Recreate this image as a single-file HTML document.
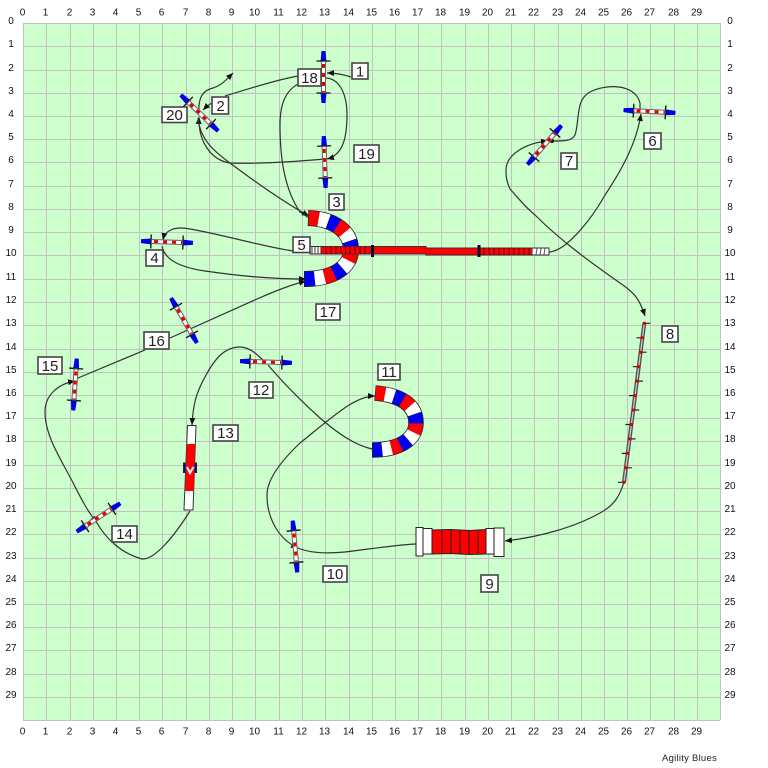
<!DOCTYPE html>
<html><head><meta charset="utf-8"><style>
html,body{margin:0;padding:0;background:#fff}
svg{display:block;filter:blur(.3px)}
text{font-family:"Liberation Sans",sans-serif}
.a text{font-size:10px;fill:#111;text-anchor:middle}
.b rect{fill:#fff;stroke:#444;stroke-width:1.6}
.b text{font-size:15px;fill:#222;text-anchor:middle}
.c path{fill:none;stroke:#333;stroke-width:1.2}
</style></head><body>
<svg width="768" height="768" viewBox="0 0 768 768" xmlns="http://www.w3.org/2000/svg">
<defs>
<marker id="m" markerUnits="userSpaceOnUse" markerWidth="8" markerHeight="6" refX="7" refY="3" orient="auto"><path d="M0 0L7 3L0 6Z" fill="#111"/></marker>
<g id="j">
<path d="M-26 -2L-15 -3V3L-26 2ZM26 -2L15 -3V3L26 2Z" fill="#0000e6"/>
<path d="M-16 -7V7M16 -7V7" stroke="#111" stroke-width="1.3"/>
<path d="M-16 0H16" stroke="#666" stroke-width="5"/>
<path d="M-15 0H15" stroke="#fff" stroke-width="3"/>
<path d="M-13 0H15" stroke="#e60000" stroke-width="3" stroke-dasharray="4 5"/>
</g>
</defs>
<rect x="23" y="23" width="697" height="697" fill="#ccffcc"/>
<path shape-rendering="crispEdges" fill="none" stroke="#c0c4c0" stroke-width="1" d="M23.5 23V720M46.5 23V720M70.5 23V720M93.5 23V720M116.5 23V720M139.5 23V720M162.5 23V720M186.5 23V720M209.5 23V720M232.5 23V720M255.5 23V720M279.5 23V720M302.5 23V720M325.5 23V720M349.5 23V720M372.5 23V720M395.5 23V720M418.5 23V720M441.5 23V720M465.5 23V720M488.5 23V720M511.5 23V720M534.5 23V720M558.5 23V720M581.5 23V720M604.5 23V720M627.5 23V720M650.5 23V720M674.5 23V720M697.5 23V720M720.5 23V720M23 23.5H720M23 46.5H720M23 70.5H720M23 93.5H720M23 116.5H720M23 139.5H720M23 162.5H720M23 186.5H720M23 209.5H720M23 232.5H720M23 255.5H720M23 279.5H720M23 302.5H720M23 325.5H720M23 349.5H720M23 372.5H720M23 395.5H720M23 418.5H720M23 441.5H720M23 465.5H720M23 488.5H720M23 511.5H720M23 534.5H720M23 558.5H720M23 581.5H720M23 604.5H720M23 627.5H720M23 650.5H720M23 674.5H720M23 697.5H720M23 720.5H720"/>

<g class="a">
<text x="22.5" y="15.5">0</text><text x="45.5" y="15.5">1</text><text x="69.5" y="15.5">2</text><text x="92.5" y="15.5">3</text><text x="115.5" y="15.5">4</text><text x="138.5" y="15.5">5</text><text x="161.5" y="15.5">6</text><text x="185.5" y="15.5">7</text><text x="208.5" y="15.5">8</text><text x="231.5" y="15.5">9</text><text x="254.5" y="15.5">10</text><text x="278.5" y="15.5">11</text><text x="301.5" y="15.5">12</text><text x="324.5" y="15.5">13</text><text x="348.5" y="15.5">14</text><text x="371.5" y="15.5">15</text><text x="394.5" y="15.5">16</text><text x="417.5" y="15.5">17</text><text x="440.5" y="15.5">18</text><text x="464.5" y="15.5">19</text><text x="487.5" y="15.5">20</text><text x="510.5" y="15.5">21</text><text x="533.5" y="15.5">22</text><text x="557.5" y="15.5">23</text><text x="580.5" y="15.5">24</text><text x="603.5" y="15.5">25</text><text x="626.5" y="15.5">26</text><text x="649.5" y="15.5">27</text><text x="673.5" y="15.5">28</text><text x="696.5" y="15.5">29</text>
<text x="22.5" y="734.5">0</text><text x="45.5" y="734.5">1</text><text x="69.5" y="734.5">2</text><text x="92.5" y="734.5">3</text><text x="115.5" y="734.5">4</text><text x="138.5" y="734.5">5</text><text x="161.5" y="734.5">6</text><text x="185.5" y="734.5">7</text><text x="208.5" y="734.5">8</text><text x="231.5" y="734.5">9</text><text x="254.5" y="734.5">10</text><text x="278.5" y="734.5">11</text><text x="301.5" y="734.5">12</text><text x="324.5" y="734.5">13</text><text x="348.5" y="734.5">14</text><text x="371.5" y="734.5">15</text><text x="394.5" y="734.5">16</text><text x="417.5" y="734.5">17</text><text x="440.5" y="734.5">18</text><text x="464.5" y="734.5">19</text><text x="487.5" y="734.5">20</text><text x="510.5" y="734.5">21</text><text x="533.5" y="734.5">22</text><text x="557.5" y="734.5">23</text><text x="580.5" y="734.5">24</text><text x="603.5" y="734.5">25</text><text x="626.5" y="734.5">26</text><text x="649.5" y="734.5">27</text><text x="673.5" y="734.5">28</text><text x="696.5" y="734.5">29</text>
<text x="11" y="24">0</text><text x="11" y="47">1</text><text x="11" y="71">2</text><text x="11" y="94">3</text><text x="11" y="117">4</text><text x="11" y="140">5</text><text x="11" y="163">6</text><text x="11" y="187">7</text><text x="11" y="210">8</text><text x="11" y="233">9</text><text x="11" y="256">10</text><text x="11" y="280">11</text><text x="11" y="303">12</text><text x="11" y="326">13</text><text x="11" y="350">14</text><text x="11" y="373">15</text><text x="11" y="396">16</text><text x="11" y="419">17</text><text x="11" y="442">18</text><text x="11" y="466">19</text><text x="11" y="489">20</text><text x="11" y="512">21</text><text x="11" y="535">22</text><text x="11" y="559">23</text><text x="11" y="582">24</text><text x="11" y="605">25</text><text x="11" y="628">26</text><text x="11" y="651">27</text><text x="11" y="675">28</text><text x="11" y="698">29</text>
<text x="730" y="24">0</text><text x="730" y="47">1</text><text x="730" y="71">2</text><text x="730" y="94">3</text><text x="730" y="117">4</text><text x="730" y="140">5</text><text x="730" y="163">6</text><text x="730" y="187">7</text><text x="730" y="210">8</text><text x="730" y="233">9</text><text x="730" y="256">10</text><text x="730" y="280">11</text><text x="730" y="303">12</text><text x="730" y="326">13</text><text x="730" y="350">14</text><text x="730" y="373">15</text><text x="730" y="396">16</text><text x="730" y="419">17</text><text x="730" y="442">18</text><text x="730" y="466">19</text><text x="730" y="489">20</text><text x="730" y="512">21</text><text x="730" y="535">22</text><text x="730" y="559">23</text><text x="730" y="582">24</text><text x="730" y="605">25</text><text x="730" y="628">26</text><text x="730" y="651">27</text><text x="730" y="675">28</text><text x="730" y="698">29</text>
</g>
<text x="662" y="761" font-size="9.5" fill="#222" style="letter-spacing:.25px">Agility Blues</text>

<!-- course -->
<g class="c">
<path d="M351 77C345 75 338 73 327 73" marker-end="url(#m)"/>
<path d="M325 78C340 78 347 95 347 115C347 140 342 155 327 159" marker-end="url(#m)"/>
<path d="M325 159C290 162 255 164 230 163C210 160 198 140 199 117" marker-end="url(#m)"/>
<path d="M298 76C275 80 245 90 225 96"/>
<path d="M212 103C208 105 206 107 203 110" marker-end="url(#m)"/>
<path d="M199 112C198 95 205 90 213 88C222 85 226 80 233 73" marker-end="url(#m)"/>
<path d="M198 118C200 140 215 152 230 163C250 178 280 200 309 216" marker-end="url(#m)"/>
<path d="M300 83C285 90 280 105 280 125C280 160 285 190 300 212L309 218"/>
<path d="M293 251C260 246 225 235 190 229C175 226 165 230 163 240" marker-end="url(#m)"/>
<path d="M162 246C165 262 185 268 205 271C240 276 270 279 306 279" marker-end="url(#m)"/>
<path d="M170 338L257 299C275 291 290 285 306 281" marker-end="url(#m)"/>
<path d="M145 350L78 378"/>
<path d="M45 412C45 395 58 384 75 381" marker-end="url(#m)"/>
<path d="M45 412C45 435 60 458 70 477C78 492 85 508 97 523" marker-end="url(#m)"/>
<path d="M97 523C105 537 120 553 142 559C155 560 175 535 190 511"/>
<path d="M267 364C258 355 250 347 240 347C225 347 215 358 205 377C196 393 193 405 192 425" marker-end="url(#m)"/>
<path d="M268 365C285 385 300 400 320 418C340 435 355 445 372 449"/>
<path d="M267 495C267 480 280 462 300 443C335 415 355 396 375 396" marker-end="url(#m)"/>
<path d="M267 495C267 520 280 540 298 548" marker-end="url(#m)"/>
<path d="M298 548C310 553 325 554 345 552C370 549 395 545 416 544"/>
<path d="M624 482C620 495 615 505 600 513C575 527 540 537 505 541" marker-end="url(#m)"/>
<path d="M510 189C520 200 525 207 535 215C560 240 590 262 620 283C635 293 640 300 645 316" marker-end="url(#m)"/>
<path d="M510 189C506 180 506 175 506 170C506 155 525 143 548 141" marker-end="url(#m)"/>
<path d="M552 141C565 141 572 141 575 135C580 120 575 100 590 92C605 84 635 83 640 103L640 110"/>
<path d="M549 252C553 252 558 250 565 245C580 233 595 213 605 195C625 165 637 140 641 114" marker-end="url(#m)"/>
</g>
<circle cx="552" cy="141" r="2" fill="#111"/>

<!-- jumps -->
<use href="#j" transform="translate(323.5 77) rotate(90)"/>
<use href="#j" transform="translate(324.7 162) rotate(88)"/>
<use href="#j" transform="translate(199.5 113) rotate(44)"/>
<use href="#j" transform="translate(167 242) rotate(2)"/>
<use href="#j" transform="translate(184 320.5) rotate(60)"/>
<use href="#j" transform="translate(544.5 145) rotate(-49)"/>
<use href="#j" transform="translate(649.5 111.5) rotate(3)"/>
<use href="#j" transform="translate(266 362) rotate(2)"/>
<use href="#j" transform="translate(75 384.5) rotate(94)"/>
<use href="#j" transform="translate(98.5 517.5) rotate(-33)"/>
<use href="#j" transform="translate(295 546.5) rotate(85)"/>

<!-- tunnel 3/17 -->
<g fill="none">
<path d="M308 218C335 219 351 232 351 250C351 266 335 279 304 279" stroke="#222" stroke-width="16"/>
<path pathLength="12" d="M308.6 218C335 219 351 232 351 250C351 266 335 279 304.6 279" stroke="#f00" stroke-width="14.5" stroke-dasharray="1 2"/>
<path pathLength="12" d="M308.6 218C335 219 351 232 351 250C351 266 335 279 304.6 279" stroke="#fff" stroke-width="14.5" stroke-dasharray="1 2" stroke-dashoffset="-1"/>
<path pathLength="12" d="M308.6 218C335 219 351 232 351 250C351 266 335 279 304.6 279" stroke="#00e" stroke-width="14.5" stroke-dasharray="1 2" stroke-dashoffset="-2"/>
</g>
<!-- tunnel 11 -->
<g fill="none">
<path d="M375 393C398 395 416 403 416 423C416 440 398 450 372 450" stroke="#222" stroke-width="15.5"/>
<path pathLength="12" d="M375.6 393C398 395 416 403 416 423C416 440 398 450 372.6 450" stroke="#f00" stroke-width="14" stroke-dasharray="1 2"/>
<path pathLength="12" d="M375.6 393C398 395 416 403 416 423C416 440 398 450 372.6 450" stroke="#fff" stroke-width="14" stroke-dasharray="1 2" stroke-dashoffset="-1"/>
<path pathLength="12" d="M375.6 393C398 395 416 403 416 423C416 440 398 450 372.6 450" stroke="#00e" stroke-width="14" stroke-dasharray="1 2" stroke-dashoffset="-2"/>
</g>

<!-- tunnel 5 -->
<rect x="310" y="246.5" width="12" height="7.5" fill="#fff" stroke="#333"/>
<path d="M312 247V254M315 247V254M318 247V254" stroke="#333"/>
<path d="M321 246.5H426V248H532V255H426V254H321Z" fill="#f00" stroke="#333"/>
<rect x="532" y="248" width="17" height="7" fill="#fff" stroke="#333"/>
<path d="M537 248.5L536 254.5M541 248.500L540 254.500M545 248.500L544 254.500" stroke="#555"/>
<path d="M326 247V254M331 247V254M336 247V254M341 247V254M345.500 247V254M350 247V254M355 247V254M360 247V254M365 247V254M484 248V255M489 248V255M494 248V255M499 248V255M504 248V255M509 248V255M514 248V255M519 248V255M524 248V255M529 248V255" stroke="#600" stroke-width="1"/>
<rect x="371" y="245" width="3" height="12" fill="#103"/>
<rect x="477.500" y="245" width="3" height="12" fill="#103"/>

<!-- tire -->
<rect x="183.500" y="463" width="13" height="9.500" fill="#0000d0" stroke="#222"/>
<path d="M187.500 425.500H196L193 510H184Z" fill="#fff" stroke="#333"/>
<path d="M186.800 444H195.300L193.700 491H185.200Z" fill="#f00"/>
<path d="M187 467L190 473L193.500 467" fill="none" stroke="#fff" stroke-width="2"/>

<!-- chute -->
<path d="M416 527.500H423V556H416Z" fill="#fff" stroke="#222"/>
<path d="M423 528.500H432V554H423Z" fill="#fff" stroke="#222"/>
<path d="M432 530L450 529.500L470 530.500L486 529.500V554L470 554.500L450 553.500L432 554Z" fill="#f00" stroke="#222"/>
<path d="M442 530V554M451 530V554M460 530V554M469 530V554M478 530V554" stroke="#222"/>
<path d="M486 528.500H494V554H486Z" fill="#fff" stroke="#222"/>
<path d="M494 528H504V556.500H494Z" fill="#fff" stroke="#222"/>

<!-- weave -->
<path d="M644.300 323.300L624 482.300" stroke="#555" stroke-width="4"/>
<path d="M644.300 323.300L624 482.300" stroke="#ccc" stroke-width="1.200"/>
<path fill="none" stroke="#222" stroke-width="1.200" d="M644.300 323.300h6M642.500 337.800h-6M640.600 352.200h6M638.800 366.700h-6M636.900 381.100h6M635.100 395.600h-6M633.200 410h6M631.400 424.500h-6M629.500 438.900h6M627.700 453.400h-6M625.900 467.800h6M624 482.300h-6"/>
<path fill="none" stroke="#e00000" stroke-width="3" d="M642.800 323.300h3M641 337.800h3M639.100 352.200h3M637.300 366.700h3M635.400 381.100h3M633.600 395.600h3M631.700 410h3M629.900 424.500h3M628 438.900h3M626.200 453.400h3M624.400 467.800h3M622.500 482.300h3"/>

<!-- labels -->
<g class="b">
<rect x="352" y="63" width="16" height="16"/><text x="360" y="76.500">1</text>
<rect x="298" y="69" width="23" height="17"/><text x="309.500" y="83">18</text>
<rect x="212" y="97" width="16.500" height="17"/><text x="220.500" y="111">2</text>
<rect x="162" y="107" width="25" height="15.500"/><text x="174.500" y="120">20</text>
<rect x="354" y="145" width="25" height="17"/><text x="366.500" y="159">19</text>
<rect x="329" y="194" width="15" height="16"/><text x="336.500" y="207">3</text>
<rect x="293" y="237" width="17" height="15.500"/><text x="301.500" y="250">5</text>
<rect x="146" y="250" width="17" height="16"/><text x="154.500" y="263">4</text>
<rect x="316" y="304" width="24" height="16"/><text x="328" y="317">17</text>
<rect x="144" y="332" width="25" height="17"/><text x="156.500" y="346">16</text>
<rect x="38" y="357" width="24" height="17"/><text x="50" y="371">15</text>
<rect x="112" y="526" width="25" height="16"/><text x="124.500" y="539">14</text>
<rect x="213" y="425" width="25" height="16"/><text x="225.500" y="438">13</text>
<rect x="249" y="382" width="24" height="16"/><text x="261" y="395">12</text>
<rect x="378" y="364" width="22" height="16"/><text x="389" y="377">11</text>
<rect x="323" y="566" width="24" height="16"/><text x="335" y="579">10</text>
<rect x="481" y="575" width="17" height="17"/><text x="489.500" y="589">9</text>
<rect x="662" y="326" width="16" height="16"/><text x="670" y="339">8</text>
<rect x="561" y="153" width="16" height="16"/><text x="569" y="166">7</text>
<rect x="644" y="133" width="17" height="16"/><text x="652.500" y="146">6</text>
</g>
</svg>
</body></html>
